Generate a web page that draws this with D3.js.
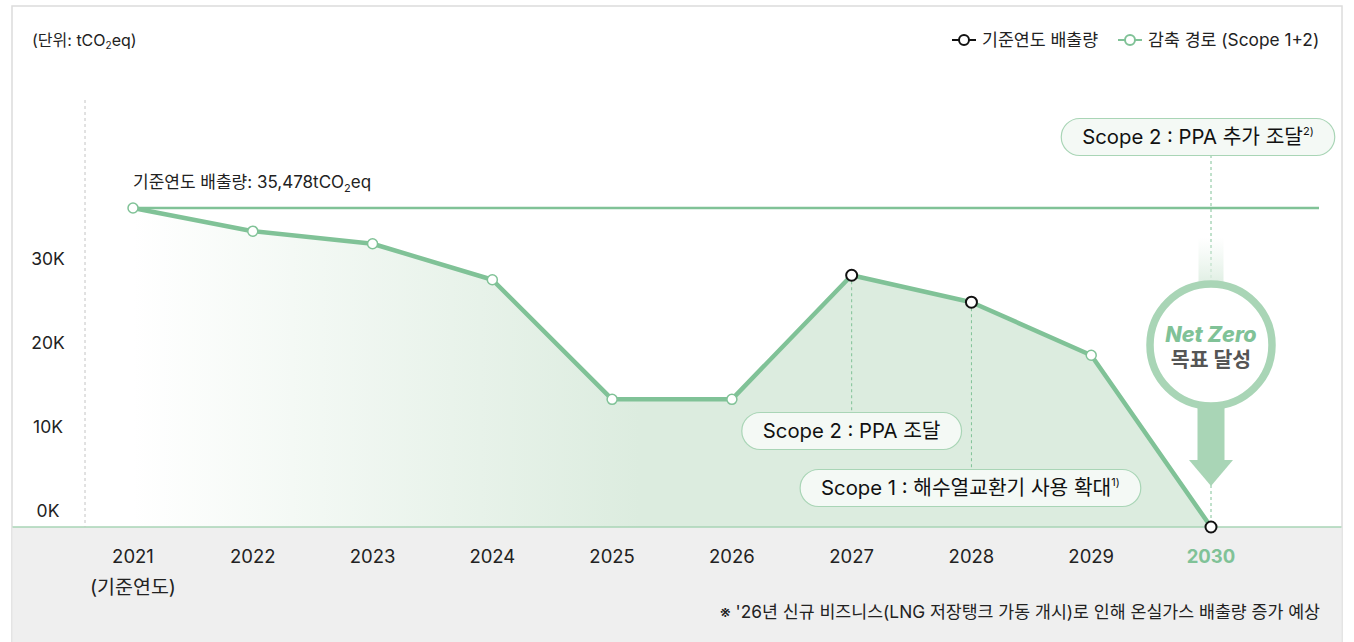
<!DOCTYPE html>
<html>
<head>
<meta charset="utf-8">
<script src="https://cdn.jsdelivr.net/npm/d3@7"></script>
<style>
	body { margin: 0; background: #fff; }
	svg text { font-family: Inter, "Noto Sans CJK KR", sans-serif; }
</style>
</head>
<body>
<div id="chart"></div>
<script>
// data
var years = ["2021", "2022", "2023", "2024", "2025", "2026", "2027", "2028", "2029", "2030"];
var baseEmission = 35478;
var pathValues = [35478, 32900, 31500, 27500, 14200, 14200, 28000, 25000, 19100, 0];
// which points use the black (base-year style) marker
var blackMarkers = ["2027", "2028", "2030"];
var yTicks = [0, 10000, 20000, 30000];
var tickLabels = ["0K", "10K", "20K", "30K"];
var notes = [
	{ year: "2027", text: "Scope 2 : PPA 조달", sup: "", cy: 431 },
	{ year: "2028", text: "Scope 1 : 해수열교환기 사용 확대", sup: "1)", cy: 488 }
];

var w = 1354, h = 642;
var green = "#80c297", ring = "#a9d5b6";

var svg = d3.select("#chart").append("svg")
	.attr("width", w)
	.attr("height", h);

var defs = svg.append("defs");
var grad = defs.append("linearGradient").attr("id", "areaGrad")
	.attr("gradientUnits", "userSpaceOnUse")
	.attr("x1", 133).attr("x2", 640).attr("y1", 0).attr("y2", 0);
grad.append("stop").attr("offset", "0%").attr("stop-color", "#ffffff");
grad.append("stop").attr("offset", "100%").attr("stop-color", "#dcecdf");
var stemGrad = defs.append("linearGradient").attr("id", "stemGrad")
	.attr("x1", 0).attr("x2", 0).attr("y1", 0).attr("y2", 1);
stemGrad.append("stop").attr("offset", "0%").attr("stop-color", "#e6f2e9").attr("stop-opacity", 0);
stemGrad.append("stop").attr("offset", "100%").attr("stop-color", "#dcede0");

// frame + bottom band
svg.append("rect").attr("x", 12).attr("y", 6).attr("width", 1330).attr("height", 640)
	.attr("fill", "#fff").attr("stroke", "#dcdcdc").attr("stroke-width", 1.5);
svg.append("rect").attr("x", 12.5).attr("y", 527).attr("width", 1329).attr("height", 115)
	.attr("fill", "#efefef");

var xScale = d3.scalePoint().domain(years).range([133, 1211]);
var yScale = d3.scaleLinear().domain([0, baseEmission]).range([527, 208]);
// tick labels sit on their own scale (label spacing in the original is not the data spacing)
var yLabel = d3.scaleLinear().domain([0, 30000]).range([511, 259]);

var pts = years.map(function(d, i) { return { year: d, v: pathValues[i] }; });

// area under reduction path
var area = d3.area()
	.x(function(d) { return xScale(d.year); })
	.y0(yScale(0))
	.y1(function(d) { return yScale(d.v); });
svg.append("path").datum(pts).attr("d", area).attr("fill", "url(#areaGrad)");

svg.append("line").attr("x1", 12.5).attr("x2", 1341.5)
	.attr("y1", yScale(0)).attr("y2", yScale(0))
	.attr("stroke", "#a9d5b6").attr("stroke-width", 1.5);

// y axis dashed line
svg.append("line").attr("x1", 85).attr("x2", 85).attr("y1", 100).attr("y2", yScale(0))
	.attr("stroke", "#c4c4c4").attr("stroke-dasharray", "3,3");

svg.selectAll(".ytick").data(yTicks).enter().append("text")
	.attr("class", "ytick")
	.attr("x", 48)
	.attr("y", function(d) { return yLabel(d); })
	.attr("dy", "0.35em")
	.attr("text-anchor", "middle")
	.attr("font-size", 17.5)
	.attr("fill", "#222")
	.text(function(d, i) { return tickLabels[i]; });

// base-year line
svg.append("line")
	.attr("x1", xScale("2021")).attr("x2", 1319)
	.attr("y1", yScale(baseEmission)).attr("y2", yScale(baseEmission))
	.attr("stroke", green).attr("stroke-width", 2.5);

var bl = svg.append("text").attr("x", 133).attr("y", 188).attr("font-size", 17).attr("fill", "#222");
bl.append("tspan").text("기준연도 배출량: 35,478tCO");
bl.append("tspan").attr("font-size", 11).attr("dy", 4).text("2");
bl.append("tspan").attr("dy", -4).text("eq");

// dashed guides
notes.forEach(function(n) {
	var p = pts[years.indexOf(n.year)];
	svg.append("line")
		.attr("x1", xScale(n.year)).attr("x2", xScale(n.year))
		.attr("y1", yScale(p.v)).attr("y2", n.cy - 18)
		.attr("stroke", green).attr("stroke-dasharray", "3,3").attr("stroke-width", 1);
});
svg.append("line")
	.attr("x1", xScale("2030")).attr("x2", xScale("2030"))
	.attr("y1", 155).attr("y2", yScale(0))
	.attr("stroke", green).attr("stroke-dasharray", "3,3").attr("stroke-width", 1);

// reduction path line
var line = d3.line()
	.x(function(d) { return xScale(d.year); })
	.y(function(d) { return yScale(d.v); });
svg.append("path").datum(pts).attr("d", line)
	.attr("fill", "none").attr("stroke", green).attr("stroke-width", 4.5)
	.attr("stroke-linejoin", "round");

// markers
svg.selectAll(".pt").data(pts).enter().append("circle")
	.attr("class", "pt")
	.attr("cx", function(d) { return xScale(d.year); })
	.attr("cy", function(d) { return yScale(d.v); })
	.attr("r", function(d) { return blackMarkers.indexOf(d.year) >= 0 ? 5.5 : 5; })
	.attr("fill", "#fff")
	.attr("stroke", function(d) { return blackMarkers.indexOf(d.year) >= 0 ? "#111" : green; })
	.attr("stroke-width", function(d) { return blackMarkers.indexOf(d.year) >= 0 ? 2 : 1.5; });

// pill labels
function pill(cx, cy, text, sup, fs) {
	var g = svg.append("g");
	var t = g.append("text").attr("x", cx).attr("y", cy).attr("dy", "0.36em")
		.attr("text-anchor", "middle").attr("font-size", fs).attr("fill", "#111");
	t.append("tspan").text(text);
	if (sup) t.append("tspan").attr("font-size", 11).attr("dy", -9).text(sup);
	var bw = t.node().getComputedTextLength() + 42;
	g.insert("rect", "text")
		.attr("x", cx - bw / 2).attr("y", cy - 18.5)
		.attr("width", bw).attr("height", 37).attr("rx", 18.5)
		.attr("fill", "#f4f9f5").attr("stroke", "#a9d5b6").attr("stroke-width", 1.2);
}
notes.forEach(function(n) {
	var off = n.year == "2028" ? -1 : 0;
	pill(xScale(n.year) + off, n.cy, n.text, n.sup, 20.3);
});
pill(1198, 137, "Scope 2 : PPA 추가 조달", "2)", 20.3);

// Net Zero badge
var nx = xScale("2030"), ny = 345;
svg.append("rect").attr("x", nx - 12.5).attr("y", 237).attr("width", 25).attr("height", 50)
	.attr("fill", "url(#stemGrad)");
svg.append("rect").attr("x", nx - 13.5).attr("y", 400).attr("width", 27).attr("height", 62)
	.attr("fill", ring);
svg.append("path")
	.attr("d", "M" + (nx - 22) + ",460 L" + (nx + 22) + ",460 L" + nx + ",486 Z")
	.attr("fill", ring);
svg.append("circle").attr("cx", nx).attr("cy", ny).attr("r", 61)
	.attr("fill", "#fff").attr("stroke", ring).attr("stroke-width", 7.5);
svg.append("text").attr("x", nx).attr("y", ny - 3)
	.attr("text-anchor", "middle").attr("font-size", 21.5).attr("font-weight", 800)
	.attr("font-style", "italic").attr("fill", green).text("Net Zero");
svg.append("text").attr("x", nx).attr("y", ny + 22)
	.attr("text-anchor", "middle").attr("font-size", 20.5).attr("font-weight", 700)
	.attr("fill", "#555").text("목표 달성");

// x labels
svg.selectAll(".xlab").data(years).enter().append("text")
	.attr("class", "xlab")
	.attr("x", function(d) { return xScale(d); })
	.attr("y", 563)
	.attr("text-anchor", "middle")
	.attr("font-size", 18.5)
	.attr("font-weight", function(d) { return d == "2030" ? 700 : 400; })
	.attr("fill", function(d) { return d == "2030" ? green : "#222"; })
	.text(function(d) { return d; });
svg.append("text").attr("x", xScale("2021")).attr("y", 594).attr("text-anchor", "middle")
	.attr("font-size", 19.5).attr("fill", "#222").text("(기준연도)");

// footnote
svg.append("text").attr("x", 1320).attr("y", 618).attr("text-anchor", "end")
	.attr("font-size", 17.3).attr("fill", "#222")
	.text("※ '26년 신규 비즈니스(LNG 저장탱크 가동 개시)로 인해 온실가스 배출량 증가 예상");

// unit label
var u = svg.append("text").attr("x", 32).attr("y", 46).attr("font-size", 16).attr("fill", "#222");
u.append("tspan").text("(단위: tCO");
u.append("tspan").attr("font-size", 10).attr("dy", 3).text("2");
u.append("tspan").attr("dy", -3).text("eq)");

// legend
var legend = [
	{ label: "기준연도 배출량", color: "#111", x: 952 },
	{ label: "감축 경로 (Scope 1+2)", color: green, x: 1118 }
];
legend.forEach(function(l) {
	svg.append("line").attr("x1", l.x).attr("x2", l.x + 24).attr("y1", 40).attr("y2", 40)
		.attr("stroke", l.color).attr("stroke-width", 2);
	svg.append("circle").attr("cx", l.x + 12).attr("cy", 40).attr("r", 5)
		.attr("fill", "#fff").attr("stroke", l.color).attr("stroke-width", 2);
	svg.append("text").attr("x", l.x + 30).attr("y", 40).attr("dy", "0.35em")
		.attr("font-size", 17.3).attr("fill", "#222").text(l.label);
});
</script>
</body>
</html>
